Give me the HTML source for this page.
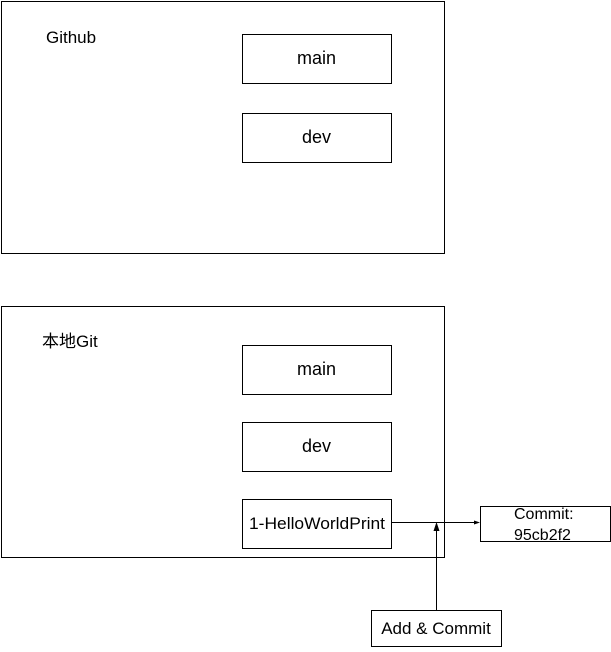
<!DOCTYPE html>
<html><head><meta charset="utf-8"><style>
body{margin:0;background:#fff;width:611px;height:647px;overflow:hidden;font-family:"Liberation Sans","Noto Sans CJK SC",sans-serif;}
</style></head><body>
<svg width="611" height="647" xmlns="http://www.w3.org/2000/svg" font-family="Liberation Sans, Noto Sans CJK SC, sans-serif">
<g fill="none" stroke="#000" stroke-width="1">
<rect x="1.5" y="1.5" width="443" height="252"/>
<rect x="242.5" y="34.5" width="149" height="49"/>
<rect x="242.5" y="113.5" width="149" height="49"/>
<rect x="1.5" y="306.5" width="443" height="251"/>
<rect x="242.5" y="345.5" width="149" height="49"/>
<rect x="242.5" y="422.5" width="149" height="49"/>
<rect x="242.5" y="499.5" width="149" height="49"/>
<rect x="480.5" y="506.5" width="130" height="35"/>
<rect x="371.5" y="610.5" width="130" height="36"/>
<line x1="391" y1="522.5" x2="475" y2="522.5"/>
<line x1="436.5" y1="610" x2="436.5" y2="530"/>
</g>
<polygon points="480,522.5 474,520.5 474,524.5" fill="#000"/>
<polygon points="436.5,522 433.5,531 439.5,531" fill="#000"/>
<g font-size="16" fill="#000">
<text x="46" y="43" font-size="17">Github</text>
<text x="316.5" y="64" text-anchor="middle" font-size="18">main</text>
<text x="316.5" y="143" text-anchor="middle" font-size="18">dev</text>
<text x="42" y="347" font-size="17">本地Git</text>
<text x="316.5" y="375" text-anchor="middle" font-size="18">main</text>
<text x="316.5" y="452" text-anchor="middle" font-size="18">dev</text>
<text x="317" y="529" text-anchor="middle" font-size="17" textLength="136" lengthAdjust="spacingAndGlyphs">1-HelloWorldPrint</text>
<text x="514" y="519" font-size="16">Commit:</text>
<text x="514" y="540" font-size="16">95cb2f2</text>
<text x="436" y="634" text-anchor="middle" font-size="17">Add &amp; Commit</text>
</g>
</svg>
</body></html>
